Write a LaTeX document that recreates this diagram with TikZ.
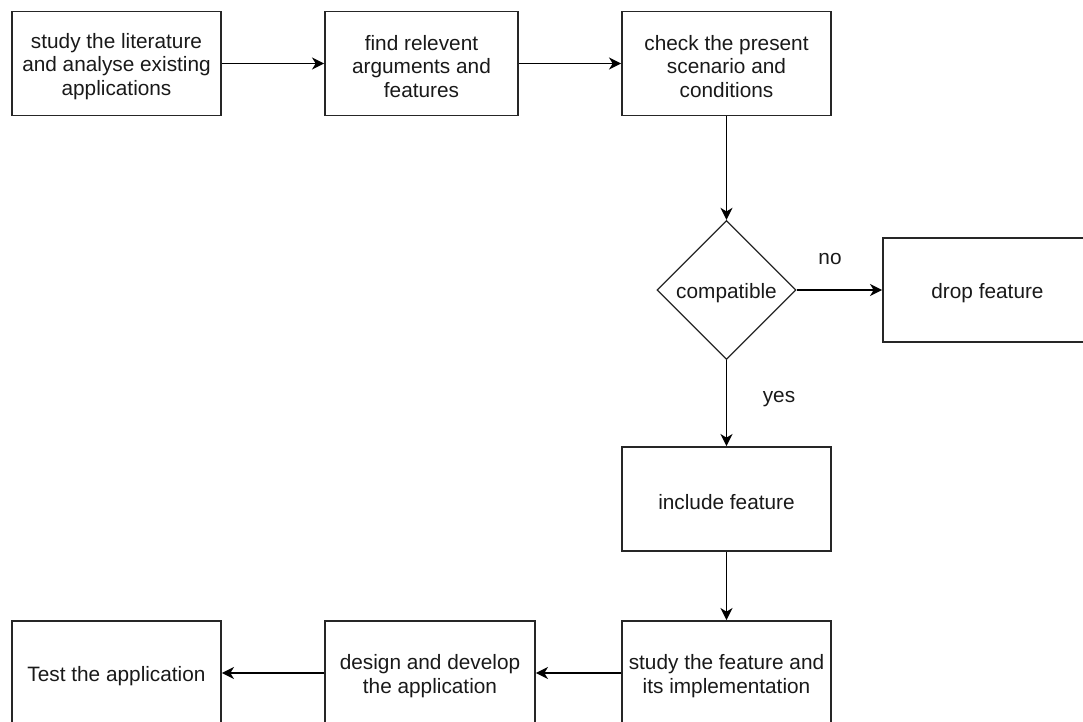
\documentclass[tikz,border=0pt]{standalone}
\usepackage{fontspec}
\setmainfont{Liberation Sans}
\usetikzlibrary{shapes.geometric,arrows.meta}
\begin{document}
\begin{tikzpicture}[x=0.5pt,y=-0.5pt,
  txt/.style={font=\fontsize{10.4pt}{11.75pt}\selectfont, align=center, text=black!90},
  says/.style={label={[txt, inner sep=0pt, yshift=-1.5pt]center:{#1}}},
  box/.style={draw=black!85, line width=0.95pt, minimum width=104.5pt, minimum height=52pt, inner sep=0pt},
  dec/.style={draw=black!85, line width=0.65pt, diamond, aspect=1, minimum width=69.5pt, minimum height=69.5pt, inner sep=0pt},
  conn/.style={line width=0.95pt, -{Stealth[length=6pt,width=6pt,inset=1.8pt]}}]
\useasboundingbox (0,0) rectangle (1083,722);
\node[box, says={study the literature\\and analyse existing\\applications}] (lit) at (116.5,63.5) {};
\node[box, minimum width=96.5pt, says={find relevent\\arguments and\\features}] (find) at (421.5,63.5) {};
\node[box, says={check the present\\scenario and\\conditions}] (check) at (726.5,63.5) {};
\node[dec, says={compatible}] (comp) at (726.5,290) {};
\node[box, says={drop feature}] (drop) at (987.5,290) {};
\node[box, says={include feature}] (inc) at (726.5,499) {};
\node[box, says={study the feature and\\its implementation}] (impl) at (726.5,673) {};
\node[box, minimum width=105pt, says={design and develop\\the application}] (dev) at (430,673) {};
\node[box, says={Test the application}] (test) at (116.5,673) {};
\node[txt] (no) at (830,259) {no};
\node[txt] (yes) at (779,399) {yes};
\draw[conn] (lit) -- (find);
\draw[conn] (find) -- (check);
\draw[conn] (check) -- (comp);
\draw[conn] (comp) -- (drop);
\draw[conn] (comp) -- (inc);
\draw[conn] (inc) -- (impl);
\draw[conn] (impl) -- (dev);
\draw[conn] (dev) -- (test);
\end{tikzpicture}
\end{document}
